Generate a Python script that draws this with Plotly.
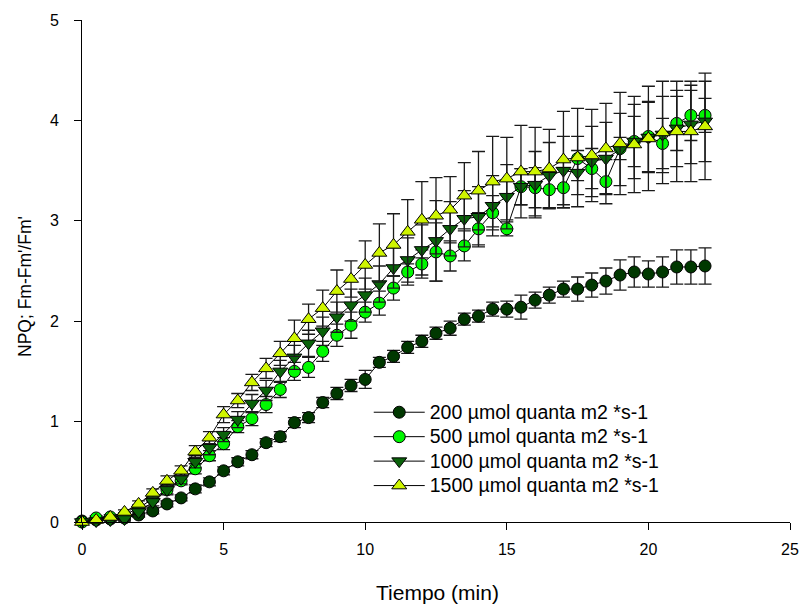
import plotly.graph_objects as go

time_min = [0, 0.5, 1, 1.5, 2, 2.5, 3, 3.5, 4, 4.5, 5, 5.5, 6, 6.5, 7, 7.5, 8, 8.5, 9, 9.5,
            10, 10.5, 11, 11.5, 12, 12.5, 13, 13.5, 14, 14.5, 15, 15.5, 16, 16.5, 17, 17.5,
            18, 18.5, 19, 19.5, 20, 20.5, 21, 21.5, 22]

npq_200 = [0.01, 0.02, 0.03, 0.04, 0.07, 0.11, 0.18, 0.24, 0.33, 0.40, 0.51, 0.60, 0.67, 0.79, 0.85,
           0.99, 1.04, 1.19, 1.28, 1.36, 1.42, 1.59, 1.65, 1.74, 1.80, 1.88, 1.93, 2.02, 2.05, 2.12,
           2.12, 2.14, 2.21, 2.26, 2.32, 2.32, 2.36, 2.40, 2.46, 2.49, 2.47, 2.49, 2.54, 2.54, 2.55]
err_200 = [0.01, 0.01, 0.01, 0.02, 0.02, 0.03, 0.03, 0.03, 0.04, 0.04, 0.04, 0.04, 0.04, 0.04, 0.05,
           0.05, 0.05, 0.05, 0.06, 0.06, 0.09, 0.05, 0.06, 0.06, 0.06, 0.06, 0.07, 0.06, 0.06, 0.07,
           0.08, 0.12, 0.08, 0.08, 0.08, 0.12, 0.12, 0.13, 0.15, 0.15, 0.13, 0.15, 0.17, 0.17, 0.18]

npq_500 = [0.00, 0.04, 0.05, 0.07, 0.14, 0.23, 0.32, 0.41, 0.53, 0.66, 0.78, 0.95, 1.03, 1.17, 1.32,
           1.50, 1.54, 1.70, 1.86, 1.96, 2.09, 2.18, 2.33, 2.49, 2.57, 2.69, 2.65, 2.75, 2.92, 3.08,
           2.92, 3.34, 3.33, 3.31, 3.33, 3.62, 3.52, 3.39, 3.72, 3.79, 3.84, 3.77, 3.97, 4.05, 4.05]
err_500 = [0.01, 0.02, 0.02, 0.02, 0.03, 0.03, 0.04, 0.04, 0.05, 0.05, 0.06, 0.06, 0.07, 0.08, 0.08,
           0.09, 0.10, 0.10, 0.11, 0.13, 0.10, 0.12, 0.12, 0.13, 0.14, 0.29, 0.15, 0.15, 0.16, 0.17,
           0.07, 0.18, 0.20, 0.18, 0.20, 0.22, 0.20, 0.22, 0.11, 0.25, 0.35, 0.25, 0.27, 0.25, 0.17]

npq_1000 = [0.00, 0.01, 0.02, 0.03, 0.10, 0.20, 0.32, 0.43, 0.60, 0.74, 0.87, 1.02, 1.18, 1.31, 1.50,
            1.64, 1.78, 1.90, 2.04, 2.16, 2.26, 2.37, 2.53, 2.61, 2.71, 2.80, 2.92, 3.02, 3.04, 3.15,
            3.24, 3.34, 3.36, 3.45, 3.50, 3.48, 3.59, 3.62, 3.71, 3.79, 3.83, 3.86, 3.92, 3.96, 3.99]
err_1000 = [0.01, 0.01, 0.02, 0.02, 0.03, 0.04, 0.05, 0.05, 0.06, 0.07, 0.07, 0.08, 0.09, 0.10, 0.11,
            0.12, 0.13, 0.14, 0.15, 0.16, 0.17, 0.18, 0.20, 0.22, 0.25, 0.40, 0.27, 0.28, 0.30, 0.30,
            0.32, 0.18, 0.33, 0.33, 0.34, 0.22, 0.35, 0.36, 0.36, 0.37, 0.35, 0.38, 0.38, 0.39, 0.40]

npq_1500 = [0.00, 0.02, 0.05, 0.10, 0.18, 0.29, 0.41, 0.51, 0.70, 0.84, 1.07, 1.21, 1.39, 1.53, 1.68,
            1.83, 2.02, 2.13, 2.30, 2.42, 2.56, 2.68, 2.76, 2.89, 3.01, 3.05, 3.11, 3.25, 3.30, 3.39,
            3.42, 3.49, 3.49, 3.52, 3.61, 3.63, 3.65, 3.72, 3.77, 3.76, 3.82, 3.88, 3.89, 3.89, 3.94]
err_1500 = [0.01, 0.01, 0.02, 0.02, 0.03, 0.04, 0.05, 0.05, 0.06, 0.06, 0.08, 0.07, 0.08, 0.10, 0.12,
            0.18, 0.15, 0.18, 0.21, 0.18, 0.24, 0.29, 0.31, 0.32, 0.38, 0.38, 0.33, 0.33, 0.39, 0.45,
            0.41, 0.46, 0.44, 0.39, 0.48, 0.49, 0.46, 0.45, 0.51, 0.48, 0.52, 0.51, 0.50, 0.50, 0.53]

series_names = ["200 µmol quanta m2 *s-1", "500 µmol quanta m2 *s-1",
                "1000 µmol quanta m2 *s-1", "1500 µmol quanta m2 *s-1"]
series_values = [npq_200, npq_500, npq_1000, npq_1500]
series_errors = [err_200, err_500, err_1000, err_1500]
series_colors = ["#003800", "#00f800", "#0a620a", "#cff500"]
series_symbols = ["circle", "circle", "triangle-down", "triangle-up"]
series_sizes = [12, 12, 13, 13]

x_title = "Tiempo (min)"
y_title = "NPQ; Fm-Fm'/Fm'"

fig = go.Figure()
for name, vals, errs, col, sym, sz in zip(series_names, series_values, series_errors,
                                          series_colors, series_symbols, series_sizes):
    fig.add_trace(go.Scatter(
        x=time_min, y=vals,
        name='<span style="font-size:19.5px">' + name + '</span>',
        mode="lines+markers",
        line=dict(color="black", width=1),
        marker=dict(symbol=sym, size=sz, color=col, line=dict(color="black", width=1)),
        error_y=dict(type="data", array=errs, visible=True, color="#1a1a1a",
                     thickness=1.3, width=6.5),
        cliponaxis=False,
    ))

font_family = "Liberation Sans, Arial, sans-serif"
fig.update_layout(
    width=811, height=606,
    margin=dict(l=82, r=16, t=17, b=84),
    paper_bgcolor="white", plot_bgcolor="white",
    font=dict(family=font_family, size=16, color="black"),
    showlegend=True,
    legend=dict(x=0.405, y=0.253, xanchor="left", yanchor="top",
                bgcolor="rgba(0,0,0,0)", font=dict(size=16.5),
                itemwidth=51, tracegroupgap=0),
    xaxis=dict(range=[0, 25], tickvals=[0, 5, 10, 15, 20, 25], showgrid=False,
               zeroline=False, showline=True, linecolor="black", linewidth=1,
               ticks="outside", ticklen=7, tickcolor="black", ticklabelstandoff=6),
    yaxis=dict(range=[0, 5], tickvals=[0, 1, 2, 3, 4, 5], showgrid=False,
               zeroline=False, showline=True, linecolor="black", linewidth=1,
               ticks="outside", ticklen=7, tickcolor="black", ticklabelstandoff=12),
    annotations=[
        dict(text=x_title, xref="paper", yref="paper", x=0.502, y=-0.1406,
             xanchor="center", yanchor="middle", showarrow=False, font=dict(size=21)),
        dict(text=y_title, xref="paper", yref="paper", x=-0.0813, y=0.469,
             xanchor="center", yanchor="middle", showarrow=False, textangle=-90,
             font=dict(size=17.5)),
    ],
)

fig.write_html("out.html")
